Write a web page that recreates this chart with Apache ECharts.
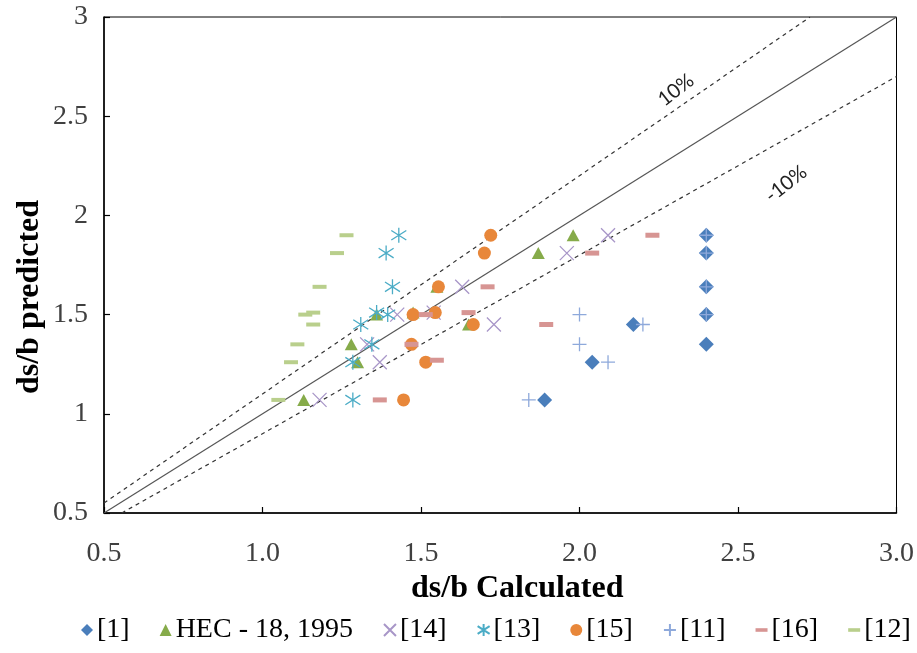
<!DOCTYPE html>
<html>
<head>
<meta charset="utf-8">
<script src="https://cdn.jsdelivr.net/npm/echarts@6/dist/echarts.min.js"></script>
<style>
  html, body { margin: 0; padding: 0; background: #fff; }
  #chart { width: 917px; height: 653px; }
</style>
</head>
<body>
<div id="chart"></div>
<script>
// values: [calculated, predicted]
const ref1 = [[2.40, 1.90], [2.40, 1.81], [2.40, 1.64], [2.40, 1.50], [2.40, 1.35], [2.17, 1.45], [2.04, 1.26], [1.89, 1.07]];
const hec18 = [[1.13, 1.07], [1.30, 1.26], [1.28, 1.35], [1.65, 1.45], [1.36, 1.50], [1.475, 1.51], [1.55, 1.64], [1.87, 1.81], [1.98, 1.90]];
const ref14 = [[1.18, 1.07], [1.37, 1.26], [1.33, 1.35], [1.73, 1.45], [1.425, 1.50], [1.54, 1.51], [1.63, 1.64], [1.96, 1.81], [2.09, 1.90]];
const ref13 = [[1.285, 1.07], [1.285, 1.26], [1.345, 1.35], [1.31, 1.45], [1.36, 1.51], [1.395, 1.50], [1.41, 1.64], [1.39, 1.81], [1.43, 1.90]];
const ref15 = [[1.445, 1.07], [1.515, 1.26], [1.47, 1.35], [1.665, 1.45], [1.475, 1.50], [1.545, 1.51], [1.555, 1.64], [1.70, 1.81], [1.72, 1.90]];
const ref11 = [[1.84, 1.07], [2.09, 1.26], [2.00, 1.35], [2.20, 1.45], [2.00, 1.50], [2.40, 1.50], [2.40, 1.64], [2.40, 1.81], [2.40, 1.90]];
const ref16 = [[1.37, 1.07], [1.55, 1.27], [1.47, 1.35], [1.895, 1.45], [1.515, 1.50], [1.65, 1.51], [1.71, 1.64], [2.04, 1.81], [2.23, 1.90]];
const ref12 = [[1.05, 1.07], [1.09, 1.26], [1.11, 1.35], [1.16, 1.45], [1.135, 1.50], [1.16, 1.51], [1.18, 1.64], [1.235, 1.81], [1.265, 1.90]];

// reference lines (end points)
const lineEqual = [[0.5, 0.5], [3.0, 3.0]];
const linePlus10 = [[0.5, 0.55], [2.727, 3.0]];
const lineMinus10 = [[0.556, 0.5], [3.0, 2.7]];

const seriesNames = ["[1]", "HEC - 18, 1995", "[14]", "[13]", "[15]", "[11]", "[16]", "[12]"];

const serif = "'Liberation Serif', 'Times New Roman', serif";
const pathX = "path://M0,0L10,10M10,0L0,10";
const pathStar = "path://M5,0L5,10M0,1.8L10,8.2M10,1.8L0,8.2";
const pathPlus = "path://M5,0L5,10M0,5L10,5";
const pathDash = "path://M0,4L10,4L10,7L0,7Z";

function filled(name, data, symbol, size, color) {
  return {
    name: name, type: "scatter", data: data, symbol: symbol, symbolSize: size,
    itemStyle: { color: color, opacity: 1 }, z: 3
  };
}
function stroked(name, data, symbol, size, color, width) {
  return {
    name: name, type: "scatter", data: data, symbol: symbol, symbolSize: size,
    itemStyle: { color: "rgba(0,0,0,0)", borderColor: color, borderWidth: width, opacity: 1 }, z: 3
  };
}
function refLine(data, dashed) {
  return {
    type: "line", data: data, symbol: "none", silent: true, z: 2,
    lineStyle: { color: dashed ? "#333" : "#555", width: 1.2, type: dashed ? [4, 4] : "solid" }
  };
}

const chart = echarts.init(document.getElementById("chart"));
chart.setOption({
  animation: false,
  backgroundColor: "#fff",
  grid: { left: 104, right: 18, top: 17, bottom: 140, show: true, borderColor: "#000", borderWidth: 1 },
  xAxis: {
    type: "value", min: 0.5, max: 3, interval: 0.5,
    name: "ds/b Calculated", nameLocation: "middle", nameGap: 50,
    nameTextStyle: { fontFamily: serif, fontWeight: "bold", fontSize: 32, color: "#000", padding: [0, 0, 0, 34] },
    axisLine: { lineStyle: { color: "#000", width: 1.5 } },
    axisTick: { inside: true, length: 6, lineStyle: { color: "#000", width: 1.2 } },
    axisLabel: { fontFamily: serif, fontSize: 28, color: "#404040", margin: 27, formatter: v => v.toFixed(1) },
    splitLine: { show: false }
  },
  yAxis: {
    type: "value", min: 0.5, max: 3, interval: 0.5,
    axisLine: { lineStyle: { color: "#000", width: 1.5 } },
    axisTick: { inside: true, length: 6, lineStyle: { color: "#000", width: 1.2 } },
    axisLabel: { fontFamily: serif, fontSize: 28, color: "#404040", margin: 16 },
    splitLine: { show: false }
  },
  legend: {
    bottom: 4, left: 76, itemGap: 30, itemWidth: 12, itemHeight: 12,
    textStyle: { fontFamily: serif, fontSize: 28, color: "#000", padding: [0, 0, 0, -1] },
    data: [
      { name: seriesNames[0] },
      { name: seriesNames[1] },
      { name: seriesNames[2] },
      { name: seriesNames[3] },
      { name: seriesNames[4], icon: "circle" },
      { name: seriesNames[5] },
      { name: seriesNames[6], icon: pathDash },
      { name: seriesNames[7], icon: pathDash }
    ]
  },
  graphic: [
    {
      type: "text", x: 30, y: 297, rotation: Math.PI / 2,
      style: { text: "ds/b predicted", font: "bold 32px " + serif, fill: "#000", align: "center", verticalAlign: "middle" }
    },
    {
      type: "text", x: 676, y: 90, rotation: 0.66,
      style: { text: "10%", font: "20px Lato, 'Open Sans', sans-serif", fill: "#222", align: "center", verticalAlign: "middle" }
    },
    {
      type: "text", x: 786, y: 184, rotation: 0.66,
      style: { text: "-10%", font: "20px Lato, 'Open Sans', sans-serif", fill: "#222", align: "center", verticalAlign: "middle" }
    }
  ],
  series: [
    refLine(lineEqual, false),
    refLine(linePlus10, true),
    refLine(lineMinus10, true),
    filled(seriesNames[0], ref1, "diamond", [15, 15], "#4A7EBB"),
    filled(seriesNames[1], hec18, "triangle", [13, 12], "#86AB4A"),
    stroked(seriesNames[2], ref14, pathX, [14, 14], "#A896C8", 1.3),
    stroked(seriesNames[3], ref13, pathStar, [15, 15], "#4BACC6", 1.3),
    filled(seriesNames[4], ref15, "circle", 13, "#E8873A"),
    stroked(seriesNames[5], ref11, pathPlus, [14, 14], "#8EA9DB", 1.3),
    filled(seriesNames[6], ref16, "rect", [14, 5], "#D79593"),
    filled(seriesNames[7], ref12, "rect", [14, 4], "#B9CF8C")
  ]
});
</script>
</body>
</html>
